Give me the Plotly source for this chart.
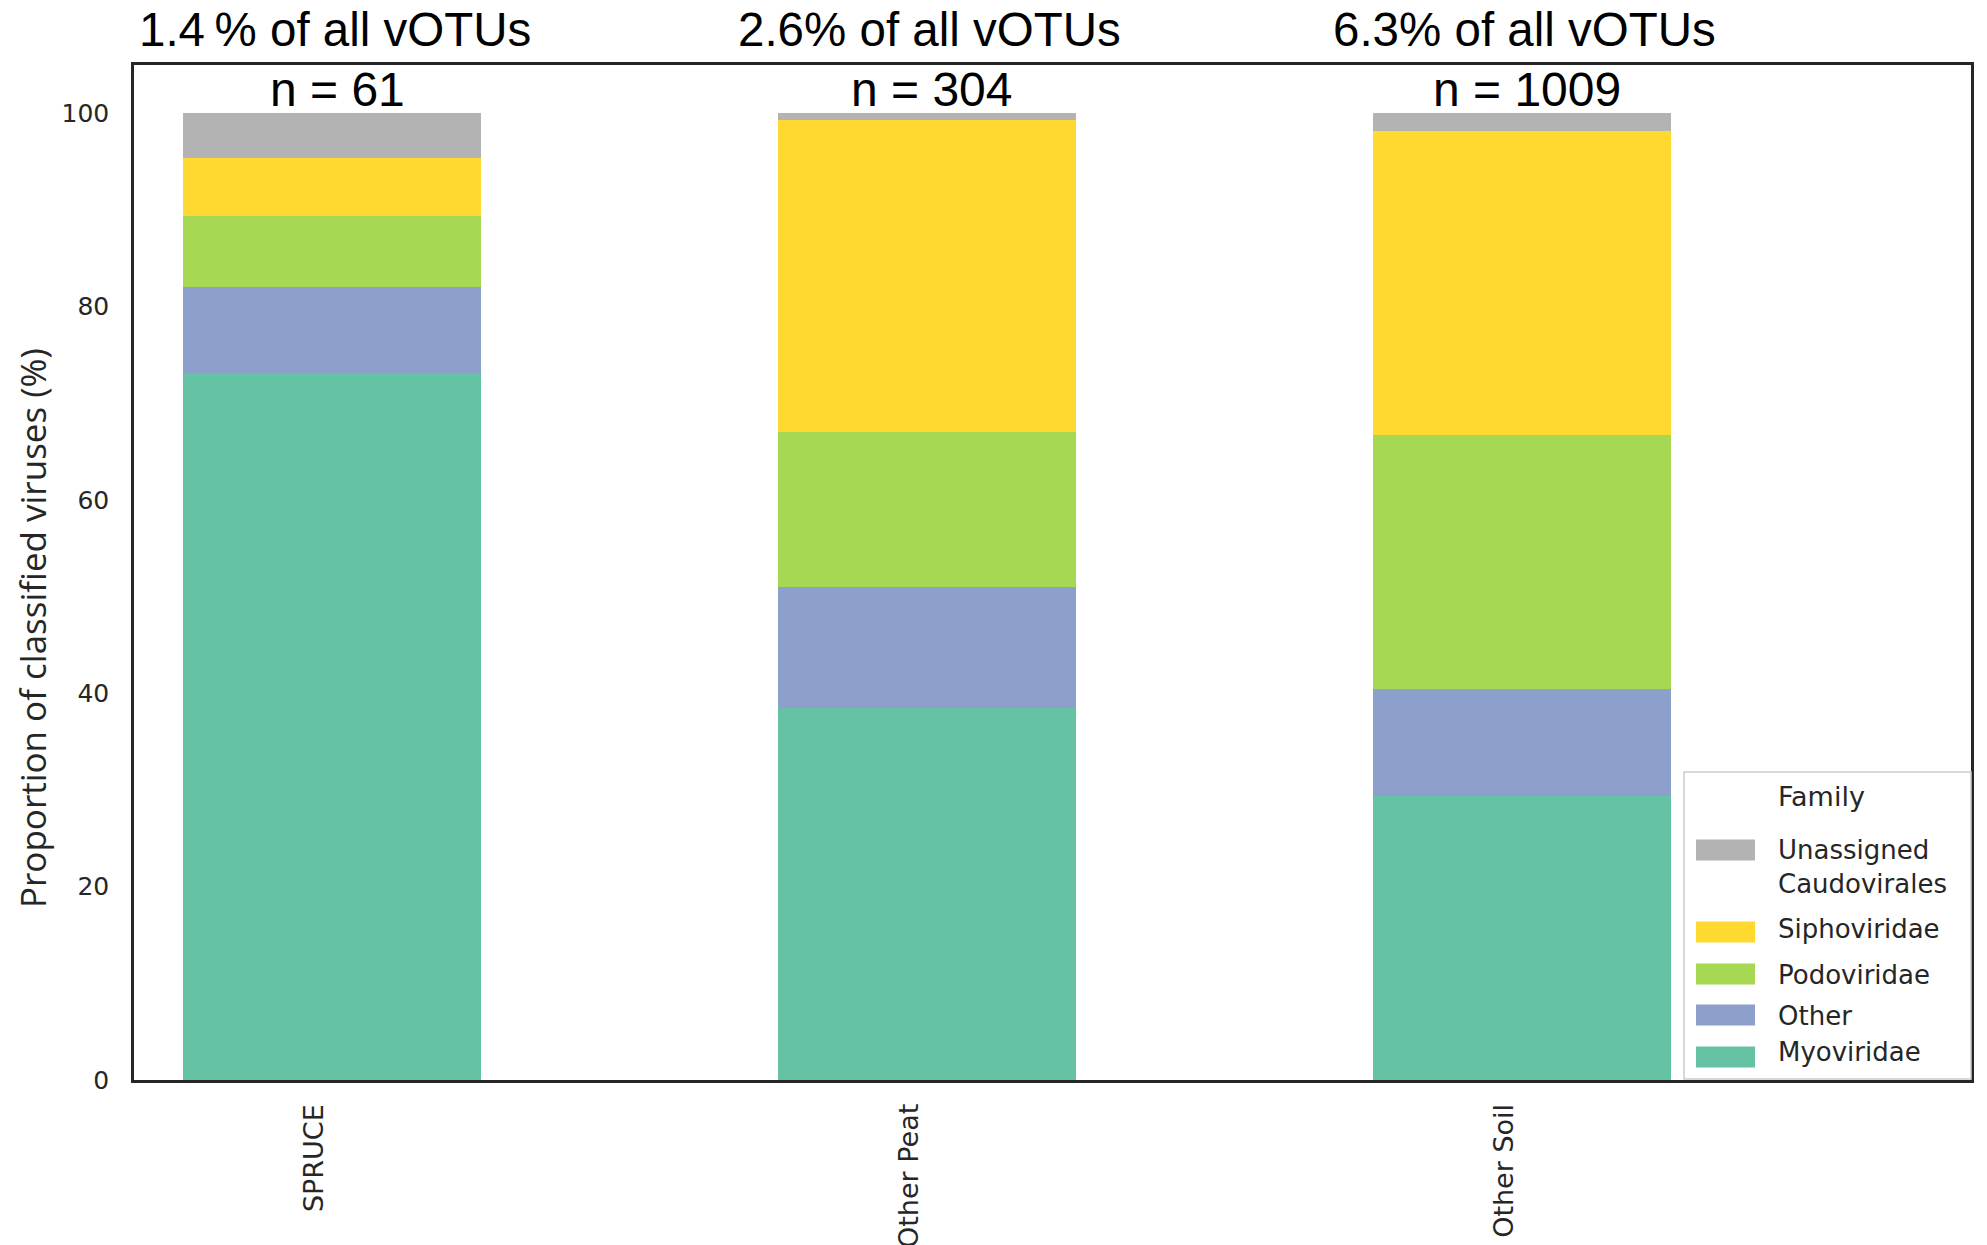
import plotly.graph_objects as go

# Sample groups and stacked family composition (% of classified viruses)
groups = ["SPRUCE", "Other Peat", "Other Soil"]
families = ["Myoviridae", "Other", "Podoviridae", "Siphoviridae", "Unassigned<br>Caudovirales"]
myoviridae = [73.1, 38.5, 29.4]
other = [8.9, 12.5, 11.0]
podoviridae = [7.4, 16.0, 26.3]
siphoviridae = [6.0, 32.3, 31.5]
unassigned = [4.6, 0.7, 1.8]
family_values = [myoviridae, other, podoviridae, siphoviridae, unassigned]
family_colors = ["#66c2a5", "#8da0cb", "#a6d854", "#ffd92f", "#b3b3b3"]

# Group annotations
share_labels = ["1.4\u2009% of all vOTUs", "2.6% of all vOTUs", "6.3% of all vOTUs"]
n_labels = ["n = 61", "n = 304", "n = 1009"]

W, H = 1987, 1245
ML, MR, MT, MB = 134, 16, 65, 165
PW, PH = W - ML - MR, H - MT - MB

TXT = "#262626"


def px(xp):
    """Pixel x -> paper x."""
    return (xp - ML) / PW


def py(yp):
    """Pixel y -> paper y."""
    return (H - MB - yp) / PH


fig = go.Figure()
for name, vals, col in zip(families, family_values, family_colors):
    fig.add_trace(go.Bar(
        x=groups, y=vals, name=name, marker=dict(color=col, line=dict(width=0)),
        width=0.5, showlegend=False,
    ))

annotations = []
for g, s, n in zip(groups, share_labels, n_labels):
    annotations.append(dict(x=g, y=py(29), xref="x", yref="paper", text=s, showarrow=False,
                            yanchor="middle", xshift=3,
                            font=dict(family="Liberation Sans", size=47.5, color="black")))
    annotations.append(dict(x=g, y=py(90), xref="x", yref="paper", text=n, showarrow=False,
                            yanchor="middle", xshift=5,
                            font=dict(family="Liberation Sans", size=48, color="black")))
    # category labels, rotated, hanging below the axis
    annotations.append(dict(x=g, y=0, xref="x", yref="paper", text=g, showarrow=False,
                            textangle=-90, xanchor="center", yanchor="top", yshift=-22, xshift=-19,
                            font=dict(family="DejaVu Sans", size=27, color=TXT)))

# y-axis title
annotations.append(dict(x=px(32), y=py(628), xref="paper", yref="paper",
                        text="Proportion of classified viruses (%)", showarrow=False, textangle=-90,
                        xanchor="center", yanchor="middle",
                        font=dict(family="Open Sans", size=35, color=TXT)))

# Legend panel, drawn in paper coordinates
shapes = [dict(type="rect", xref="paper", yref="paper", x0=px(1684), x1=px(1971), y0=py(1079), y1=py(772),
               line=dict(color="#cccccc", width=1.5), fillcolor="white", layer="above")]
annotations.append(dict(x=px(1776), y=py(797), xref="paper", yref="paper", text="Family", showarrow=False,
                        xanchor="left", yanchor="middle", font=dict(family="DejaVu Sans", size=27, color=TXT)))
legend_rows = [  # (family index, swatch centre y, label centre y)
    (4, 850, 867),
    (3, 932, 929),
    (2, 974, 975),
    (1, 1015, 1016),
    (0, 1057, 1052),
]
for idx, sy, ty in legend_rows:
    shapes.append(dict(type="rect", xref="paper", yref="paper", x0=px(1696), x1=px(1755),
                       y0=py(sy + 10.5), y1=py(sy - 10.5), line=dict(width=0),
                       fillcolor=family_colors[idx], layer="above"))
    annotations.append(dict(x=px(1776), y=py(ty), xref="paper", yref="paper", text=families[idx],
                            showarrow=False, xanchor="left", yanchor="middle", align="left",
                            font=dict(family="DejaVu Sans", size=26, color=TXT)))

fig.update_layout(
    width=W, height=H, autosize=False,
    margin=dict(l=ML, r=MR, t=MT, b=MB),
    barmode="stack", bargap=0,
    paper_bgcolor="white", plot_bgcolor="white",
    showlegend=False,
    annotations=annotations, shapes=shapes,
    xaxis=dict(
        range=[-0.333, 2.755], showgrid=False, zeroline=False,
        showline=True, mirror=True, linecolor=TXT, linewidth=2.5,
        ticks="", showticklabels=False, automargin=False,
    ),
    yaxis=dict(
        range=[0, 105], tickvals=[0, 20, 40, 60, 80, 100], showgrid=False, zeroline=False,
        showline=True, mirror=True, linecolor=TXT, linewidth=2.5,
        ticks="", ticklabelstandoff=17, automargin=False,
        tickfont=dict(family="DejaVu Sans", size=25, color=TXT),
    ),
)

fig.write_html("out.html")
